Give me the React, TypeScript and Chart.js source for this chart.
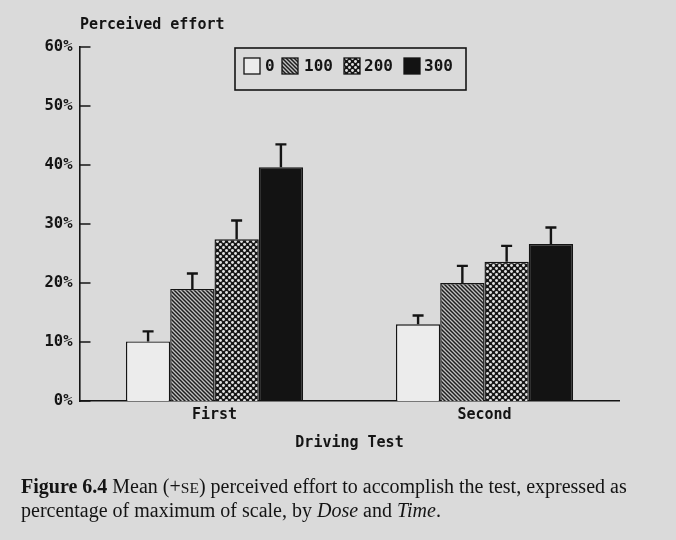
import React, { useEffect, useRef } from "react";
import { Chart, registerables } from "chart.js";

Chart.register(...registerables);

const categories = ["First", "Second"];
const doseLabels = ["0", "100", "200", "300"];
const dose0 = [10.1, 13.0];
const dose100 = [19.0, 20.0];
const dose200 = [27.4, 23.6];
const dose300 = [39.6, 26.6];
const se0 = [1.7, 1.5];
const se100 = [2.6, 2.9];
const se200 = [3.2, 2.7];
const se300 = [3.9, 2.8];
const yTickStep = 10;
const yMax = 60;
const yAxisTitle = "Perceived effort";
const xAxisTitle = "Driving Test";

const INK = "#141414";
const BG = "#dadada";
const CHART_FONT = "'DejaVu Sans Mono', monospace";

function makeHatch(): CanvasPattern | string {
  const c = document.createElement("canvas");
  c.width = 4;
  c.height = 4;
  const g = c.getContext("2d");
  if (!g) return "#777";
  g.fillStyle = "#c0c0c0";
  g.fillRect(0, 0, 4, 4);
  g.strokeStyle = "#1e1e1e";
  g.lineWidth = 1.45;
  g.beginPath();
  g.moveTo(-1, -1);
  g.lineTo(5, 5);
  g.moveTo(-1, 3);
  g.lineTo(1, 5);
  g.moveTo(3, -1);
  g.lineTo(5, 1);
  g.stroke();
  return g.createPattern(c, "repeat") || "#777";
}

function makeCross(): CanvasPattern | string {
  const c = document.createElement("canvas");
  c.width = 6;
  c.height = 6;
  const g = c.getContext("2d");
  if (!g) return "#555";
  g.fillStyle = "#161616";
  g.fillRect(0, 0, 6, 6);
  g.fillStyle = "#e2e2e2";
  const dots = [
    [1.5, 1.5],
    [4.5, 4.5],
  ];
  for (const [x, y] of dots) {
    g.beginPath();
    g.arc(x, y, 1.45, 0, Math.PI * 2);
    g.fill();
  }
  return g.createPattern(c, "repeat") || "#555";
}

export default function App() {
  const ref = useRef<HTMLCanvasElement | null>(null);

  useEffect(() => {
    const canvas = ref.current;
    if (!canvas) return;
    const fills = ["#ececec", makeHatch(), makeCross(), "#131313"];
    const values = [dose0, dose100, dose200, dose300];
    const errors = [se0, se100, se200, se300];

    const errorBars = {
      id: "errorBars",
      afterDatasetsDraw(chart: any) {
        const { ctx } = chart;
        const y = chart.scales.y;
        ctx.save();
        ctx.strokeStyle = INK;
        ctx.lineWidth = 2.4;
        chart.data.datasets.forEach((ds: any, di: number) => {
          const meta = chart.getDatasetMeta(di);
          meta.data.forEach((bar: any, i: number) => {
            const v = ds.data[i];
            const top = y.getPixelForValue(v + errors[di][i]);
            const base = y.getPixelForValue(v);
            ctx.beginPath();
            ctx.moveTo(bar.x, base);
            ctx.lineTo(bar.x, top);
            ctx.moveTo(bar.x - 5.5, top);
            ctx.lineTo(bar.x + 5.5, top);
            ctx.stroke();
          });
        });
        ctx.restore();
      },
    };

    const decorations = {
      id: "decorations",
      afterDraw(chart: any) {
        const { ctx, chartArea } = chart;
        const y = chart.scales.y;
        ctx.save();
        // inward ticks
        ctx.strokeStyle = INK;
        ctx.lineWidth = 1.5;
        y.ticks.forEach((t: any) => {
          const py = y.getPixelForValue(t.value);
          ctx.beginPath();
          ctx.moveTo(chartArea.left, py);
          ctx.lineTo(chartArea.left + 11, py);
          ctx.stroke();
        });
        // axis title
        ctx.fillStyle = INK;
        ctx.font = `bold 15px ${CHART_FONT}`;
        ctx.textAlign = "left";
        ctx.textBaseline = "middle";
        ctx.fillText(yAxisTitle, 80, 25);
        // legend
        const bx = 235, by = 48, bw = 231, bh = 42;
        ctx.lineWidth = 1.6;
        ctx.strokeRect(bx, by, bw, bh);
        const sq = [244, 282, 344, 404];
        const tx = [265, 304, 364, 424];
        ctx.font = `bold 16px ${CHART_FONT}`;
        chart.data.datasets.forEach((ds: any, di: number) => {
          ctx.fillStyle = ds.backgroundColor;
          ctx.fillRect(sq[di], 58, 16, 16);
          ctx.lineWidth = 1.3;
          ctx.strokeRect(sq[di], 58, 16, 16);
          ctx.fillStyle = INK;
          ctx.fillText(ds.label, tx[di], 67);
        });
        ctx.restore();
      },
    };

    const chart = new Chart(canvas, {
      type: "bar",
      data: {
        labels: categories,
        datasets: doseLabels.map((lab, i) => ({
          label: lab,
          data: values[i],
          backgroundColor: fills[i] as any,
          borderColor: INK,
          borderWidth: 1.4,
          barPercentage: 1,
          categoryPercentage: 0.656,
        })),
      },
      options: {
        responsive: false,
        animation: false,
        devicePixelRatio: 1,
        layout: { padding: { top: 47, right: 56.5, left: 0, bottom: 0 } },
        plugins: {
          legend: { display: false },
          tooltip: { enabled: false },
          title: { display: false },
        },
        scales: {
          x: {
            grid: { display: false, drawTicks: false },
            border: { display: true, color: INK, width: 1.6 },
            ticks: {
              color: INK,
              padding: 5,
              font: { family: CHART_FONT, size: 15, weight: "bold" },
            },
            title: {
              display: true,
              text: xAxisTitle,
              color: INK,
              font: { family: CHART_FONT, size: 15, weight: "bold" },
              padding: { top: 0, bottom: 88 },
            },
            afterFit: (s: any) => {
              s.height = 139;
            },
          },
          y: {
            min: 0,
            max: yMax,
            grid: { display: false, drawTicks: false },
            border: { display: true, color: INK, width: 1.6 },
            ticks: {
              stepSize: yTickStep,
              color: INK,
              padding: 7,
              font: { family: CHART_FONT, size: 15.5, weight: "bold" },
              callback: (v: any) => `${v}%`,
            },
            afterFit: (s: any) => {
              s.width = 79.5;
            },
          },
        },
      },
      plugins: [errorBars, decorations],
    });
    return () => chart.destroy();
  }, []);

  return (
    <div style={{ position: "fixed", left: 0, top: 0, width: 676, height: 540, background: BG, overflow: "hidden" }}>
      <canvas ref={ref} width={676} height={540} style={{ position: "absolute", left: 0, top: 0, width: 676, height: 540 }} />
      <div
        style={{
          position: "absolute",
          left: 21,
          top: 475,
          fontFamily: "'Liberation Serif', serif",
          fontSize: 20,
          lineHeight: "22px",
          color: INK,
          whiteSpace: "nowrap",
        }}
      >
        <div>
          <b>Figure 6.4</b> Mean (+<span style={{ fontSize: 15.5 }}>SE</span>) perceived effort to accomplish the test, expressed as
        </div>
        <div>
          percentage of maximum of scale, by <i>Dose</i> and <i>Time</i>.
        </div>
      </div>
    </div>
  );
}
